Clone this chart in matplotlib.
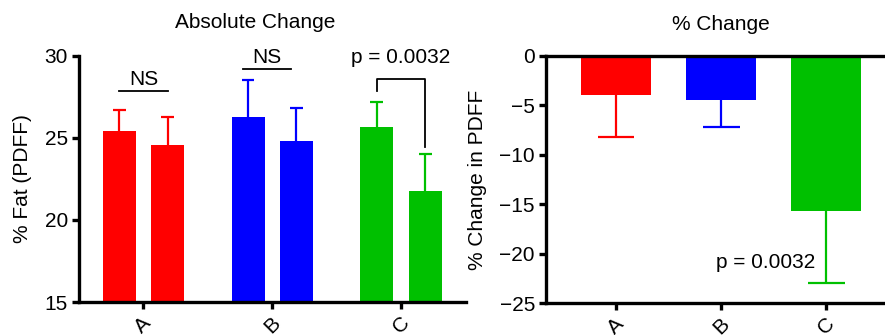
import numpy as np
import matplotlib.pyplot as plt

plt.rcParams['font.family'] = ['Liberation Sans', 'DejaVu Sans']
plt.rcParams['font.size'] = 15

# data
groups = ['A', 'B', 'C']
colors = ['#ff0000', '#0000ff', '#00c000']

pre_fat = [25.41, 26.26, 25.67]
pre_err = [1.29, 2.29, 1.54]
post_fat = [24.55, 24.82, 21.77]
post_err = [1.75, 1.99, 2.23]

pct_change = [-4.0, -4.42, -15.66]
pct_err = [4.2, 2.75, 7.35]

sig_labels = ['NS', 'NS', 'p = 0.0032']

fig = plt.figure(figsize=(8.85, 3.35), dpi=100)

## left panel: absolute change
ax1 = fig.add_axes([0.0893, 0.0985, 0.4367, 0.7345])
x = np.arange(len(groups))
off = 0.188
w = 0.256
for i in range(len(groups)):
    for xx, v, e in [(x[i] - off, pre_fat[i], pre_err[i]), (x[i] + off, post_fat[i], post_err[i])]:
        ax1.bar(xx, v - 15, bottom=15, width=w, color=colors[i], zorder=2)
        ax1.vlines(xx, v, v + e, color=colors[i], lw=1.6, zorder=2)
        ax1.hlines(v + e, xx - 0.05, xx + 0.05, color=colors[i], lw=1.6, zorder=2)

ax1.set_xlim(-0.5, 2.5)
ax1.set_ylim(15, 30)
ax1.set_yticks([15, 20, 25, 30])
ax1.set_xticks(x)
ax1.set_xticklabels(groups, rotation=45, ha='center')
ax1.set_ylabel('% Fat (PDFF)', labelpad=9)
for s in ['top', 'right']:
    ax1.spines[s].set_visible(False)
for s in ['left', 'bottom']:
    ax1.spines[s].set_linewidth(2.4)
ax1.tick_params(width=2.4, length=5, pad=3)

# significance marks
ax1.plot([-off, off], [27.88, 27.88], color='k', lw=1.3, clip_on=False)
ax1.text(0, 28.0, sig_labels[0], ha='center', va='bottom')
ax1.plot([1 - off - 0.04, 1 + off - 0.04], [29.21, 29.21], color='k', lw=1.3, clip_on=False)
ax1.text(0.96, 29.33, sig_labels[1], ha='center', va='bottom')
ax1.plot([2 - off, 2 - off, 2 + off, 2 + off], [27.88, 28.62, 28.62, 24.45], color='k', lw=1.3, clip_on=False)
ax1.text(2, 29.33, sig_labels[2], ha='center', va='bottom')

fig.text(255 / 885, 1 - 22 / 335, 'Absolute Change', ha='center', va='center')

## right panel: % change
ax2 = fig.add_axes([0.617, 0.0955, 0.383, 0.7375])
bw = 0.667
ax2.bar(x, pct_change, width=bw, color=colors, zorder=2)
for i in range(len(groups)):
    lo = pct_change[i] - pct_err[i]
    ax2.vlines(x[i], pct_change[i], lo, color=colors[i], lw=1.6, zorder=2)
    ax2.hlines(lo, x[i] - 0.175, x[i] + 0.175, color=colors[i], lw=1.6, zorder=2)

ax2.set_xlim(-0.667, 2.56)
ax2.set_ylim(-25, 0)
ax2.set_yticks([-25, -20, -15, -10, -5, 0])
ax2.set_xticks(x)
ax2.set_xticklabels(groups, rotation=45, ha='center')
ax2.set_ylabel('% Change in PDFF', labelpad=9)
ax2.spines['right'].set_visible(False)
for s in ['left', 'bottom', 'top']:
    ax2.spines[s].set_linewidth(2.4)
ax2.tick_params(width=2.4, length=5, pad=3)
ax2.text(1.895, -20.9, sig_labels[2], ha='right', va='center')

fig.text(721 / 885, 1 - 25 / 335, '% Change', ha='center', va='center')

fig.savefig('out.png', dpi=100)
